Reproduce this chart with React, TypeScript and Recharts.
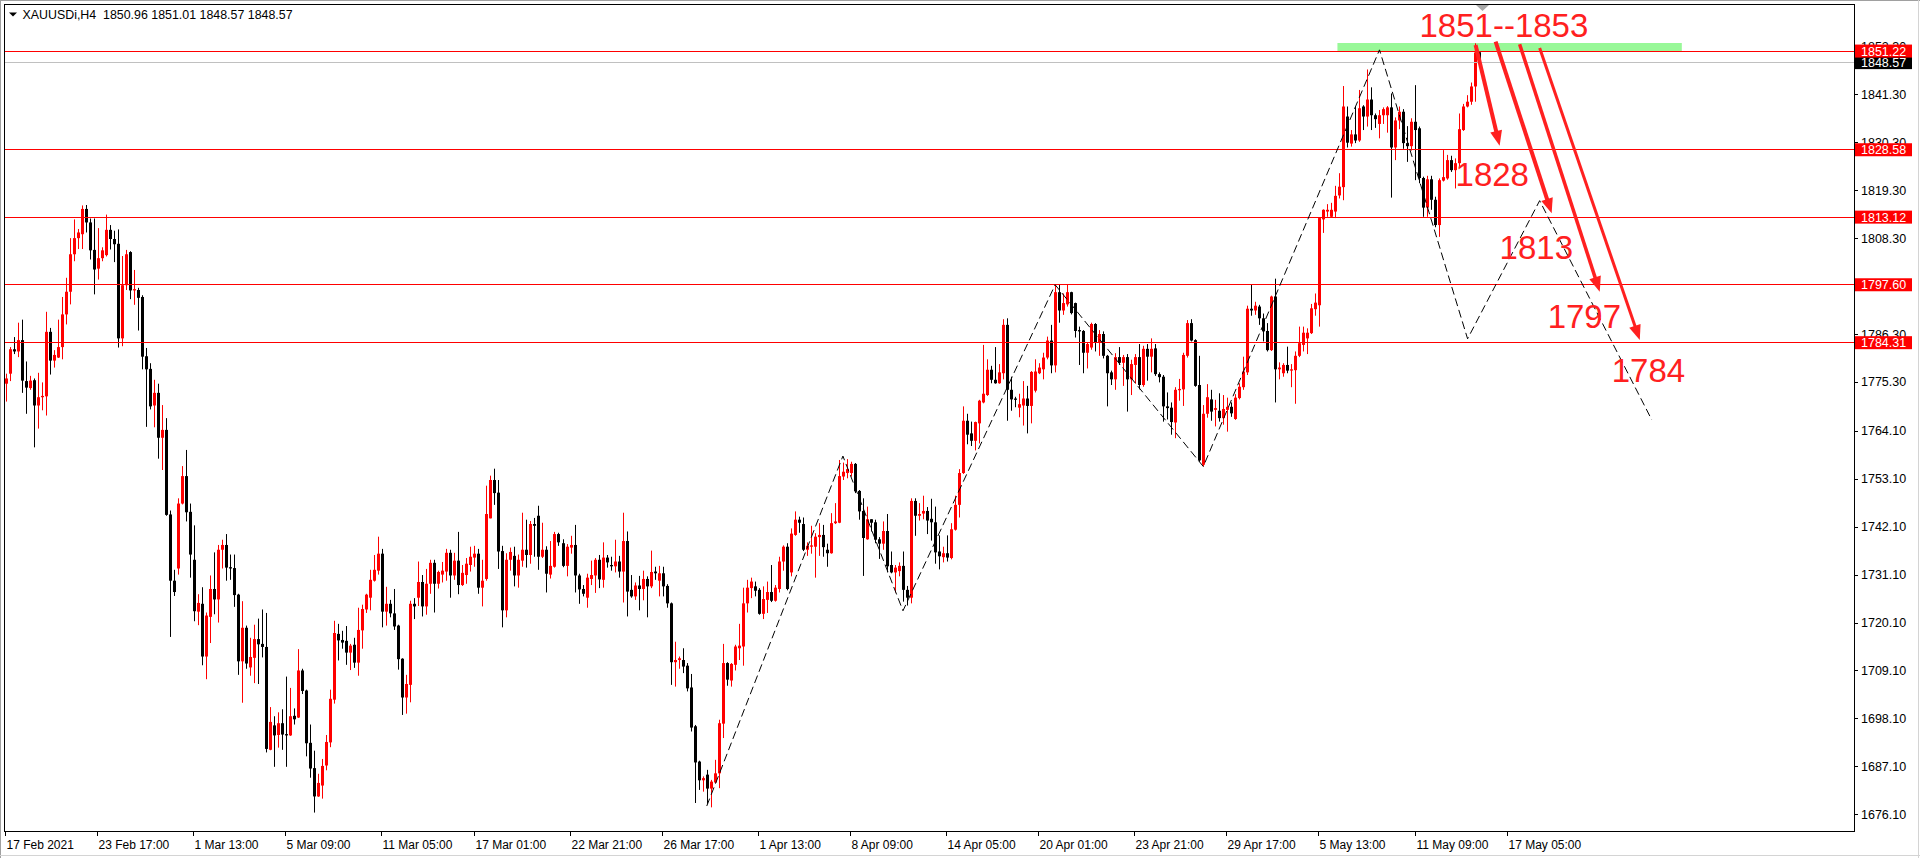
import React from 'react';
import {
  ComposedChart,
  Bar,
  Line,
  XAxis,
  YAxis,
  ReferenceLine,
  ReferenceArea,
  ReferenceDot,
} from 'recharts';

// XAUUSDi H4 chart, MT4 look

const W = 1920;
const H = 858;
const PLOT_L = 4;
const PLOT_T = 4;
const PLOT_R = 1854;
const PLOT_B = 832;
const SLOTS = 462; // bars + empty shift area on the right
const FONT = '"Liberation Sans", Arial, sans-serif';

const OPEN = [
  1774.9, 1777.2, 1782.8, 1782.3, 1784.9, 1775.5, 1773.9, 1775.7, 1769.9, 1771.8,
  1772.0, 1786.8, 1780.2, 1780.9, 1783.3, 1790.8, 1796.0, 1804.6, 1808.3, 1809.2,
  1815.0, 1811.9, 1805.6, 1801.3, 1803.7, 1804.4, 1810.2, 1808.1, 1807.0, 1785.3,
  1797.5, 1805.1, 1796.3, 1796.4, 1794.8, 1781.2, 1778.3, 1769.9, 1772.8, 1762.5,
  1764.3, 1744.9, 1729.7, 1732.5, 1747.4, 1753.7, 1745.5, 1734.5, 1722.6, 1724.4,
  1712.3, 1721.4, 1727.8, 1725.4, 1736.8, 1737.9, 1732.8, 1732.6, 1726.5, 1711.2,
  1718.9, 1709.8, 1712.0, 1716.3, 1715.2, 1714.5, 1690.9, 1696.5, 1694.3, 1697.0,
  1694.5, 1694.2, 1698.7, 1698.3, 1709.1, 1704.5, 1692.5,
  1686.7, 1680.2, 1682.7, 1687.3, 1692.6, 1702.4, 1717.5, 1716.1, 1715.9, 1713.2,
  1715.0, 1710.9, 1718.3, 1723.1, 1725.8, 1729.7, 1732.0, 1735.9, 1722.6, 1724.4,
  1722.2, 1719.4, 1711.8, 1702.9, 1705.8, 1724.4, 1725.8, 1729.4, 1723.8, 1729.0,
  1733.8, 1729.0, 1731.1, 1731.8, 1736.1, 1730.9, 1734.3, 1728.7, 1731.0, 1733.3,
  1735.0, 1735.9, 1728.1, 1730.1, 1744.0, 1752.8, 1749.9, 1736.5, 1722.9, 1734.5,
  1735.4, 1730.9, 1734.3, 1736.8, 1735.6, 1742.7, 1744.6, 1735.2, 1736.8, 1731.1,
  1732.9, 1740.4, 1738.3, 1733.1, 1737.3, 1737.9, 1730.9, 1727.8, 1725.8, 1730.1, 1730.9, 1734.5,
  1729.9, 1735.0, 1733.3, 1733.0, 1734.1, 1731.8, 1738.8, 1727.6, 1726.1, 1728.6,
  1727.8, 1730.1, 1728.4, 1731.8, 1729.7, 1731.4, 1728.5, 1724.5, 1711.0, 1711.5,
  1711.5, 1710.2, 1705.2, 1696.3, 1688.2, 1683.9, 1685.2, 1682.0, 1683.4, 1685.5,
  1696.9, 1710.8, 1706.8, 1710.4, 1714.2, 1714.6, 1724.5, 1728.0, 1728.4, 1727.6,
  1722.1, 1725.3, 1727.1, 1725.1, 1727.8, 1734.1, 1737.5, 1731.6, 1740.2, 1743.7,
  1742.7, 1736.8, 1737.5, 1737.5, 1739.7, 1740.2, 1736.8, 1736.0, 1742.9, 1743.0,
  1753.6, 1754.4, 1754.4, 1756.5, 1750.3, 1745.7, 1739.2, 1743.8, 1743.1, 1739.2,
  1738.2, 1741.1, 1733.3, 1731.6, 1731.9,
  1733.1, 1727.6, 1725.8, 1748.0, 1744.6, 1745.1, 1745.7, 1743.9, 1743.1, 1736.4,
  1735.1, 1736.0, 1734.9, 1741.4, 1747.1, 1754.4, 1766.4, 1763.5, 1761.8, 1765.8,
  1770.6, 1772.3, 1778.1, 1775.8, 1775.0, 1777.3, 1788.4, 1773.5, 1771.5, 1769.4,
  1769.9, 1771.5, 1769.8, 1773.3, 1777.3, 1778.2, 1780.9, 1784.8, 1779.1, 1795.9,
  1791.7, 1793.1, 1795.9, 1793.4, 1787.2, 1787.0, 1782.0, 1783.2, 1788.6, 1784.4,
  1786.3, 1781.3, 1777.5, 1775.9, 1781.0, 1779.7, 1781.0, 1775.9, 1779.2, 1781.0,
  1774.6, 1782.9, 1781.1, 1783.0, 1777.1, 1776.5, 1769.7, 1769.4, 1766.0, 1773.4,
  1773.6, 1781.3, 1788.8, 1784.9, 1774.6,
  1756.3, 1768.0, 1771.3, 1768.9, 1768.7, 1767.0, 1768.9, 1769.6, 1766.8, 1771.6,
  1774.1, 1777.5, 1792.1, 1791.7, 1792.6, 1789.9, 1787.0, 1782.6, 1794.9, 1778.2,
  1777.3, 1779.2, 1777.9, 1778.0, 1781.3, 1783.8, 1785.3, 1786.5, 1792.0, 1792.9,
  1812.6, 1814.4, 1813.2, 1814.4, 1818.1, 1820.0, 1836.2, 1830.0, 1832.1, 1830.7,
  1838.5, 1836.2, 1840.1, 1836.5, 1834.5, 1836.5, 1836.5, 1838.3, 1829.1, 1835.3,
  1837.3, 1830.1, 1829.4, 1835.0, 1833.5, 1822.1, 1815.3, 1821.8, 1817.1, 1811.3,
  1821.5, 1822.0, 1826.2, 1823.9, 1825.5, 1833.1, 1838.5, 1839.6, 1843.1, 1850.96,
];

const HIGH = [
  1777.2, 1783.3, 1785.6, 1788.9, 1789.6, 1780.0, 1776.7, 1776.1, 1777.4, 1775.2,
  1791.4, 1787.7, 1782.6, 1789.6, 1794.8, 1799.2, 1808.3, 1812.6, 1810.4, 1815.8,
  1815.9, 1812.8, 1812.8, 1810.6, 1806.2, 1813.7, 1811.3, 1810.0, 1810.3, 1804.2,
  1805.6, 1805.3, 1801.0, 1796.9, 1795.2, 1783.1, 1779.6, 1775.8, 1774.9, 1770.0,
  1767.0, 1745.8, 1732.2, 1748.6, 1756.0, 1759.7, 1747.4, 1742.4, 1726.6, 1728.2,
  1722.4, 1730.9, 1736.2, 1737.9, 1739.1, 1740.4, 1735.7, 1735.7, 1726.7, 1725.0,
  1719.4, 1716.6, 1719.6, 1721.0, 1723.1, 1722.3, 1700.7, 1698.6, 1699.5, 1700.2,
  1707.7, 1705.1, 1700.4, 1714.0, 1709.5, 1704.7, 1696.7,
  1690.7, 1685.4, 1688.8, 1694.3, 1704.7, 1720.5, 1719.8, 1718.2, 1719.3, 1715.2,
  1716.6, 1723.5, 1724.2, 1726.7, 1732.2, 1735.6, 1739.8, 1737.0, 1728.3, 1725.3,
  1727.8, 1719.6, 1711.9, 1708.1, 1725.1, 1725.7, 1734.1, 1731.0, 1732.4, 1734.5,
  1734.5, 1732.0, 1734.0, 1737.0, 1736.8, 1736.1, 1740.9, 1733.3, 1734.9, 1737.5,
  1737.7, 1737.0, 1734.5, 1751.5, 1753.8, 1755.4, 1752.8, 1737.7, 1736.0, 1737.3,
  1737.5, 1735.7, 1745.3, 1743.7, 1743.4, 1744.1, 1746.9, 1743.0, 1737.6, 1738.8,
  1740.9, 1740.7, 1739.2, 1738.1, 1740.0, 1742.5, 1731.3, 1728.7, 1731.3, 1734.3, 1734.9, 1735.6,
  1738.5, 1735.6, 1735.2, 1739.1, 1735.4, 1745.3, 1741.0, 1731.0, 1729.3, 1730.8,
  1732.0, 1730.7, 1736.6, 1732.9, 1733.1, 1732.9, 1728.9, 1724.7, 1715.7, 1712.3,
  1714.2, 1710.8, 1708.3, 1696.6, 1688.4, 1684.8, 1686.3, 1684.0, 1688.6, 1697.8,
  1715.2, 1711.0, 1710.8, 1715.0, 1719.8, 1728.1, 1729.9, 1730.4, 1729.5, 1728.0,
  1728.4, 1729.5, 1733.3, 1728.7, 1735.2, 1737.8, 1738.3, 1741.7, 1745.6, 1744.4,
  1744.2, 1738.5, 1742.3, 1740.6, 1742.9, 1742.5, 1738.2, 1745.2, 1747.5, 1757.4,
  1756.8, 1757.6, 1757.0, 1756.7, 1750.5, 1748.6, 1746.7, 1743.8, 1743.7, 1739.7,
  1743.3, 1745.0, 1736.4, 1733.3, 1733.9,
  1736.4, 1728.5, 1748.6, 1748.6, 1747.5, 1749.2, 1746.6, 1748.5, 1746.7, 1740.1,
  1737.5, 1740.1, 1742.9, 1749.2, 1755.3, 1769.7, 1768.0, 1766.2, 1766.2, 1771.2,
  1783.8, 1780.5, 1779.0, 1783.3, 1779.4, 1789.7, 1789.9, 1776.5, 1771.9, 1772.6,
  1775.5, 1774.4, 1777.8, 1780.5, 1779.6, 1782.0, 1785.7, 1788.4, 1797.6, 1797.6,
  1795.6, 1797.6, 1796.0, 1793.5, 1788.0, 1787.2, 1784.3, 1788.9, 1788.8, 1787.2,
  1786.9, 1781.5, 1777.9, 1781.9, 1783.3, 1781.5, 1781.7, 1780.4, 1781.7, 1784.0,
  1783.6, 1784.0, 1785.3, 1784.0, 1777.5, 1776.9, 1772.9, 1770.6, 1774.1, 1776.0,
  1782.0, 1789.5, 1789.7, 1785.1, 1781.3,
  1770.0, 1774.8, 1773.5, 1771.2, 1772.7, 1772.3, 1771.7, 1770.6, 1772.5, 1775.0,
  1781.1, 1792.8, 1797.7, 1793.7, 1793.0, 1791.0, 1788.8, 1795.1, 1799.0, 1779.8,
  1779.6, 1783.4, 1779.4, 1782.3, 1788.0, 1788.0, 1787.6, 1793.2, 1795.6, 1813.1,
  1814.9, 1816.1, 1816.4, 1820.3, 1823.2, 1843.2, 1838.5, 1833.1, 1838.5, 1842.3,
  1838.8, 1847.0, 1842.9, 1836.9, 1837.7, 1838.3, 1838.6, 1841.5, 1836.0, 1838.5,
  1837.9, 1834.0, 1835.8, 1843.4, 1833.9, 1822.4, 1822.6, 1822.6, 1817.8, 1822.0,
  1828.5, 1827.4, 1827.2, 1826.6, 1836.9, 1839.1, 1841.1, 1844.0, 1853.0, 1851.01,
];

const LOW = [
  1770.8, 1775.5, 1781.7, 1781.0, 1772.8, 1768.0, 1773.5, 1760.3, 1764.6, 1768.8,
  1767.6, 1777.0, 1778.6, 1780.8, 1780.5, 1788.5, 1793.1, 1803.0, 1805.8, 1805.8,
  1809.6, 1803.4, 1795.4, 1798.8, 1803.0, 1804.1, 1805.7, 1802.8, 1783.2, 1783.5,
  1796.4, 1794.3, 1793.0, 1787.1, 1778.2, 1765.0, 1769.0, 1764.9, 1757.7, 1755.1,
  1744.6, 1716.8, 1726.2, 1731.1, 1747.2, 1743.3, 1730.4, 1720.4, 1719.5, 1710.3,
  1707.1, 1715.4, 1722.0, 1720.1, 1732.5, 1729.7, 1729.9, 1723.7, 1708.1, 1701.7,
  1709.5, 1707.9, 1706.2, 1706.0, 1712.1, 1690.3, 1690.8, 1687.0, 1691.4, 1690.9,
  1687.0, 1694.1, 1696.7, 1698.2, 1703.7, 1689.4, 1684.5,
  1676.5, 1680.1, 1679.7, 1686.2, 1691.5, 1701.5, 1711.4, 1714.1, 1710.4, 1709.2,
  1709.7, 1707.9, 1714.1, 1722.3, 1722.9, 1729.5, 1731.1, 1719.0, 1719.4, 1721.3,
  1718.4, 1709.3, 1698.9, 1699.2, 1701.8, 1720.9, 1723.9, 1721.5, 1721.9, 1726.7,
  1722.4, 1727.9, 1729.3, 1729.7, 1725.8, 1729.9, 1726.6, 1728.5, 1729.0, 1731.8,
  1732.9, 1726.7, 1723.8, 1729.7, 1744.0, 1747.1, 1732.4, 1719.0, 1721.3, 1732.0,
  1728.4, 1728.1, 1732.9, 1732.7, 1733.6, 1735.2, 1732.2, 1734.9, 1727.0, 1730.2,
  1732.7, 1737.7, 1732.8, 1730.7, 1735.9, 1727.0, 1724.4, 1726.1, 1723.5, 1728.7, 1726.9, 1728.0,
  1728.1, 1732.7, 1732.0, 1731.6, 1730.4, 1724.7, 1721.5, 1725.8, 1725.3, 1722.9,
  1725.2, 1721.3, 1728.0, 1729.9, 1726.1, 1726.1, 1723.5, 1705.8, 1705.4, 1709.5,
  1708.5, 1704.3, 1695.1, 1678.7, 1681.7, 1681.3, 1678.5, 1677.7, 1683.3, 1682.1,
  1693.6, 1705.6, 1705.4, 1709.1, 1711.5, 1710.2, 1722.4, 1725.7, 1726.1, 1721.9,
  1720.9, 1722.3, 1724.8, 1724.9, 1727.0, 1732.0, 1727.5, 1730.7, 1740.0, 1740.7,
  1736.5, 1735.4, 1735.9, 1730.4, 1735.4, 1735.2, 1732.9, 1735.9, 1742.7, 1742.9,
  1752.8, 1753.2, 1753.6, 1749.8, 1743.7, 1730.8, 1739.1, 1741.0, 1738.3, 1734.7,
  1736.8, 1731.6, 1731.4, 1727.0, 1730.7,
  1724.9, 1724.0, 1724.5, 1740.0, 1743.5, 1743.8, 1740.4, 1738.9, 1733.6, 1732.3,
  1733.9, 1734.1, 1734.6, 1741.2, 1744.2, 1754.2, 1761.0, 1760.6, 1759.6, 1761.2,
  1770.4, 1772.1, 1775.0, 1774.9, 1774.9, 1775.9, 1766.4, 1768.7, 1769.5, 1767.2,
  1765.3, 1763.5, 1765.8, 1772.9, 1777.1, 1775.9, 1780.5, 1777.3, 1777.5, 1788.9,
  1790.7, 1792.6, 1790.8, 1785.5, 1779.2, 1777.3, 1778.4, 1782.7, 1782.3, 1781.3,
  1780.7, 1769.7, 1774.6, 1773.5, 1779.2, 1774.4, 1768.5, 1772.3, 1774.9, 1773.6,
  1774.2, 1775.6, 1777.5, 1776.7, 1775.2, 1766.2, 1766.7, 1763.2, 1762.4, 1771.0,
  1769.8, 1780.9, 1784.6, 1774.2, 1757.0,
  1755.9, 1767.1, 1766.4, 1765.1, 1766.2, 1765.5, 1763.9, 1767.3, 1766.6, 1771.3,
  1773.5, 1776.9, 1790.5, 1790.7, 1788.4, 1784.6, 1782.3, 1782.4, 1770.6, 1775.9,
  1776.5, 1777.3, 1774.1, 1770.3, 1781.0, 1782.3, 1781.7, 1786.3, 1790.5, 1788.0,
  1809.5, 1813.2, 1813.0, 1812.9, 1817.4, 1817.0, 1829.1, 1829.3, 1830.1, 1830.4,
  1833.1, 1833.9, 1833.1, 1833.6, 1831.2, 1834.5, 1832.5, 1817.6, 1826.2, 1833.3,
  1828.8, 1825.8, 1828.4, 1821.6, 1820.9, 1813.2, 1813.2, 1814.8, 1810.8, 1808.6,
  1821.3, 1821.7, 1823.5, 1819.7, 1824.7, 1832.9, 1838.3, 1838.9, 1839.6, 1848.57,
];

const CLOSE = [
  1776.1, 1782.8, 1782.3, 1784.9, 1775.6, 1774.0, 1775.6, 1769.9, 1771.8, 1772.1,
  1786.8, 1780.2, 1781.5, 1783.3, 1790.8, 1796.0, 1804.6, 1808.3, 1809.6, 1815.0,
  1811.9, 1805.5, 1801.1, 1803.7, 1805.5, 1810.2, 1808.1, 1806.9, 1785.3, 1797.5,
  1804.6, 1796.3, 1796.6, 1794.6, 1781.1, 1778.2, 1769.7, 1772.8, 1762.5, 1764.3,
  1744.8, 1729.7, 1727.1, 1747.4, 1753.7, 1745.4, 1735.7, 1722.7, 1724.6, 1712.3,
  1721.7, 1727.8, 1725.4, 1736.8, 1737.9, 1732.7, 1732.5, 1726.4, 1711.2, 1718.9,
  1710.7, 1712.2, 1716.3, 1715.1, 1714.5, 1691.1, 1697.3, 1694.2, 1697.0, 1694.4,
  1694.2, 1698.6, 1697.9, 1709.1, 1704.4, 1692.4, 1686.6,
  1680.2, 1683.3, 1687.2, 1692.7, 1702.6, 1717.7, 1716.0, 1715.5, 1713.2, 1714.8,
  1710.9, 1718.4, 1723.2, 1726.5, 1729.9, 1732.2, 1735.9, 1722.6, 1724.4, 1722.2,
  1719.2, 1711.7, 1702.9, 1706.0, 1724.4, 1723.8, 1729.4, 1723.8, 1729.0, 1733.8,
  1729.0, 1731.7, 1732.0, 1736.1, 1730.9, 1734.3, 1728.7, 1731.5, 1733.6, 1735.2,
  1735.9, 1728.1, 1729.7, 1745.0, 1752.8, 1749.8, 1736.4, 1722.9, 1734.5, 1736.3,
  1730.9, 1734.5, 1736.8, 1735.6, 1742.7, 1742.3, 1735.2, 1736.8, 1731.3, 1733.1,
  1740.4, 1738.5, 1733.1, 1737.5, 1737.9, 1730.9, 1727.7, 1726.7, 1730.4, 1731.0, 1734.5, 1730.0,
  1735.0, 1733.9, 1733.0, 1734.1, 1731.8, 1738.8, 1727.2, 1726.1, 1728.6, 1727.8,
  1730.1, 1728.4, 1731.7, 1731.4, 1731.4, 1728.4, 1724.5, 1711.0, 1711.5, 1711.9,
  1710.0, 1705.0, 1696.0, 1688.0, 1683.9, 1684.4, 1682.0, 1683.6, 1685.5, 1697.0,
  1710.8, 1707.0, 1710.6, 1714.6, 1714.8, 1724.5, 1728.1, 1729.5, 1727.4, 1722.1,
  1725.5, 1727.1, 1725.1, 1728.1, 1734.1, 1737.5, 1727.8, 1740.5, 1743.7, 1743.0,
  1736.8, 1737.7, 1737.8, 1739.8, 1740.2, 1737.4, 1736.0, 1742.9, 1743.3, 1753.7,
  1754.7, 1755.3, 1756.5, 1750.2, 1745.6, 1739.5, 1743.8, 1743.0, 1739.1, 1738.2,
  1741.1, 1733.0, 1731.6, 1732.7, 1733.1,
  1727.6, 1725.8, 1748.0, 1744.6, 1745.0, 1745.7, 1743.5, 1743.1, 1736.2, 1735.3,
  1736.0, 1735.0, 1741.5, 1747.1, 1754.4, 1766.4, 1763.2, 1761.8, 1766.1, 1771.0,
  1772.6, 1778.1, 1775.8, 1775.0, 1777.5, 1788.4, 1773.5, 1771.3, 1771.2, 1770.2,
  1771.5, 1769.8, 1777.6, 1777.7, 1778.6, 1780.9, 1784.8, 1779.1, 1795.9, 1791.7,
  1793.4, 1795.9, 1791.1, 1787.0, 1786.9, 1782.0, 1784.0, 1788.6, 1784.4, 1786.3,
  1781.3, 1777.3, 1775.9, 1781.0, 1779.7, 1781.0, 1775.9, 1779.4, 1781.0, 1774.6,
  1782.9, 1781.1, 1782.9, 1777.1, 1776.4, 1769.7, 1769.3, 1766.1, 1773.5, 1773.7,
  1781.5, 1788.8, 1784.8, 1774.4, 1757.3,
  1768.0, 1771.8, 1768.5, 1769.3, 1767.0, 1769.1, 1769.6, 1768.1, 1771.7, 1774.2,
  1777.7, 1792.1, 1791.7, 1792.8, 1789.9, 1786.9, 1782.6, 1794.9, 1778.2, 1778.6,
  1779.2, 1777.9, 1778.2, 1781.3, 1784.2, 1786.6, 1786.6, 1792.2, 1793.5, 1812.9,
  1814.8, 1814.8, 1814.8, 1818.0, 1820.1, 1838.5, 1830.2, 1832.1, 1830.7, 1838.1,
  1836.2, 1840.1, 1836.5, 1835.6, 1836.5, 1837.9, 1838.3, 1829.1, 1835.3, 1837.3,
  1830.1, 1829.4, 1835.0, 1833.1, 1822.1, 1815.3, 1821.8, 1817.1, 1811.3, 1821.6,
  1822.3, 1826.2, 1823.9, 1825.5, 1833.3, 1838.5, 1839.6, 1843.1, 1850.9, 1848.57,
];

// time axis: bar slot -> label
const X_TICK_BARS = [0, 23, 47, 70, 94, 117, 141, 164, 188, 211, 235, 258, 282, 305, 328, 352, 375];
const X_TICK_LABELS = [
  '17 Feb 2021', '23 Feb 17:00', '1 Mar 13:00', '5 Mar 09:00', '11 Mar 05:00',
  '17 Mar 01:00', '22 Mar 21:00', '26 Mar 17:00', '1 Apr 13:00', '8 Apr 09:00',
  '14 Apr 05:00', '20 Apr 01:00', '23 Apr 21:00', '29 Apr 17:00', '5 May 13:00',
  '11 May 09:00', '17 May 05:00',
];

const Y_DOMAIN = [1672.04, 1862.02];
const Y_TICKS = [
  1852.3, 1841.3, 1830.3, 1819.3, 1808.3, 1797.3, 1786.3, 1775.3,
  1764.1, 1753.1, 1742.1, 1731.1, 1720.1, 1709.1, 1698.1, 1687.1, 1676.1,
];

// horizontal levels + current bid
const LEVELS = [1851.22, 1828.58, 1813.12, 1797.6, 1784.31];
const BID = 1848.57;

// dashed zigzag pivots
const ZIGZAG_BARS = [175, 209, 224, 262, 299, 343, 365, 383, 411];
const ZIGZAG_PRICES = [1678.0, 1758.3, 1722.8, 1797.6, 1755.9, 1851.5, 1785.2, 1816.9, 1766.6];

// red target arrows
const ARROW_FROM_BAR = [367, 372, 378, 383];
const ARROW_FROM_PRICE = [1852.6, 1853.4, 1852.8, 1851.9];
const ARROW_TO_BAR = [373, 386, 398, 408];
const ARROW_TO_PRICE = [1829.5, 1814.0, 1796.0, 1784.9];
const ARROW_WIDTH = [4, 4, 3.5, 3];

// text notes
const NOTE_TEXT = ['1851--1853', '1828', '1813', '1797', '1784'];
const NOTE_BAR = [353, 362, 373, 385, 401];
const NOTE_PRICE = [1854.44, 1820.27, 1803.46, 1787.63, 1775.38];

// green resistance zone
const ZONE_BARS = [333, 418];
const ZONE_PRICES = [1851.22, 1853.1];

const rows = Array.from({ length: SLOTS }, (_, i) => {
  const row: any = { i };
  if (i < OPEN.length) {
    const o = OPEN[i];
    const c = CLOSE[i];
    const h = Math.max(HIGH[i], o, c);
    const l = Math.min(LOW[i], o, c);
    row.o = o;
    row.c = c;
    row.h = h;
    row.l = l;
    row.range = [l, h];
  }
  const z = ZIGZAG_BARS.indexOf(i);
  if (z >= 0) row.zz = ZIGZAG_PRICES[z];
  return row;
});

const Candle = (props: any) => {
  const { x, y, width, height, payload } = props;
  if (!payload || payload.o === undefined) return <g />;
  const { o, h, l, c } = payload;
  const top = Math.min(y, y + height);
  const bottom = Math.max(y, y + height);
  const k = h > l ? (bottom - top) / (h - l) : 0;
  const py = (v: number) => top + (h - v) * k;
  const cx = Math.round(x + width / 2);
  const color = c >= o ? '#ff0000' : '#000000';
  const bTop = py(Math.max(o, c));
  const bBot = py(Math.min(o, c));
  return (
    <g>
      <rect x={cx} y={top} width={1} height={Math.max(1, bottom - top)} fill={color} />
      <rect x={cx - 1} y={bTop} width={3} height={Math.max(1, bBot - bTop)} fill={color} />
    </g>
  );
};

const XTick = (props: any) => {
  const { x, payload } = props;
  const k = X_TICK_BARS.indexOf(payload.value);
  if (k < 0) return <g />;
  const px = Math.round(x) - 0.5;
  return (
    <g>
      <line x1={px} x2={px} y1={PLOT_B} y2={PLOT_B + 4} stroke="#000" />
      <text x={px + 1} y={849} fontSize={12} fontFamily={FONT} fill="#000" textAnchor="start">
        {X_TICK_LABELS[k]}
      </text>
    </g>
  );
};

const YTick = (props: any) => {
  const { y, payload } = props;
  const v = payload.value as number;
  const isTag = v === BID || LEVELS.includes(v);
  if (isTag) {
    return (
      <g>
        <rect x={PLOT_R + 1} y={y - 6.5} width={57} height={13} fill={v === BID ? '#000' : '#ff0000'} />
        <text x={PLOT_R + 7} y={y + 4.5} fontSize={12.5} fontFamily={FONT} fill="#fff">
          {v.toFixed(2)}
        </text>
      </g>
    );
  }
  const py = Math.round(y) + 0.5;
  return (
    <g>
      <line x1={PLOT_R} x2={PLOT_R + 4} y1={py} y2={py} stroke="#000" />
      <text x={PLOT_R + 7} y={y + 4.5} fontSize={12.5} fontFamily={FONT} fill="#000">
        {v.toFixed(2)}
      </text>
    </g>
  );
};

const arrowShape = (w: number) => (p: any) => {
  const { x1, y1, x2, y2 } = p;
  const ang = Math.atan2(y2 - y1, x2 - x1);
  const cs = Math.cos(ang);
  const sn = Math.sin(ang);
  const len = 15;
  const hw = 6;
  const bx = x2 - len * cs;
  const by = y2 - len * sn;
  const pts = `${x2},${y2} ${bx - hw * sn},${by + hw * cs} ${bx + hw * sn},${by - hw * cs}`;
  return (
    <g>
      <line x1={x1} y1={y1} x2={bx + 2 * cs} y2={by + 2 * sn} stroke="#ff2020" strokeWidth={w} />
      <polygon points={pts} fill="#ff2020" />
    </g>
  );
};

const noteShape = (text: string) => (p: any) => (
  <text x={p.cx} y={p.cy} fontSize={33} fontFamily={FONT} fill="#ff2020">
    {text}
  </text>
);

export default function App() {
  return (
    <div
      style={{
        position: 'fixed',
        left: 0,
        top: 0,
        width: W,
        height: H,
        background: '#fff',
        overflow: 'hidden',
      }}
    >
      <ComposedChart
        width={W}
        height={H}
        data={rows}
        margin={{ top: PLOT_T, right: 0, bottom: 0, left: PLOT_L }}
        style={{ position: 'absolute', left: 0, top: 0 }}
      >
        <XAxis
          dataKey="i"
          type="category"
          height={H - PLOT_B}
          ticks={X_TICK_BARS}
          interval={0}
          tick={XTick}
          tickLine={false}
          axisLine={false}
        />
        <YAxis
          orientation="right"
          type="number"
          width={W - PLOT_R}
          domain={Y_DOMAIN}
          allowDataOverflow
          ticks={[...Y_TICKS, BID, ...LEVELS]}
          interval={0}
          tick={YTick}
          tickLine={false}
          axisLine={false}
        />
        <ReferenceArea
          x1={ZONE_BARS[0]}
          x2={ZONE_BARS[1]}
          y1={ZONE_PRICES[0]}
          y2={ZONE_PRICES[1]}
          fill="#98f898"
          fillOpacity={1}
          stroke="none"
          ifOverflow="visible"
        />
        <ReferenceLine y={BID} stroke="#c0c0c0" strokeWidth={1} shapeRendering="crispEdges" />
        <Bar dataKey="range" shape={Candle} isAnimationActive={false} />
        {LEVELS.map((v) => (
          <ReferenceLine key={v} y={v} stroke="#ff0000" strokeWidth={1} shapeRendering="crispEdges" />
        ))}
        <Line
          dataKey="zz"
          connectNulls
          stroke="#000"
          strokeWidth={1}
          strokeDasharray="8 4"
          dot={false}
          activeDot={false}
          isAnimationActive={false}
        />
        {ARROW_FROM_BAR.map((b, k) => (
          <ReferenceLine
            key={`arrow-${k}`}
            segment={[
              { x: b, y: ARROW_FROM_PRICE[k] },
              { x: ARROW_TO_BAR[k], y: ARROW_TO_PRICE[k] },
            ]}
            ifOverflow="visible"
            shape={arrowShape(ARROW_WIDTH[k])}
          />
        ))}
        {NOTE_TEXT.map((t, k) => (
          <ReferenceDot
            key={t}
            x={NOTE_BAR[k]}
            y={NOTE_PRICE[k]}
            r={0}
            ifOverflow="visible"
            shape={noteShape(t)}
          />
        ))}
      </ComposedChart>
      <svg
        width={W}
        height={H}
        style={{ position: 'absolute', left: 0, top: 0, pointerEvents: 'none' }}
      >
        <rect x={PLOT_L + 0.5} y={PLOT_T + 0.5} width={PLOT_R - PLOT_L} height={PLOT_B - PLOT_T - 1} fill="none" stroke="#000" />
        <line x1={0} x2={W} y1={0.5} y2={0.5} stroke="#a0a0a0" />
        <line x1={0.5} x2={0.5} y1={0} y2={H} stroke="#a0a0a0" />
        <line x1={0} x2={W} y1={855.5} y2={855.5} stroke="#d4d4d4" />
        <line x1={1918.5} x2={1918.5} y1={0} y2={H} stroke="#d4d4d4" />
        <polygon points="1476,5 1489,5 1482.5,11" fill="#a8a8a8" />
        <polygon points="9,12.5 17,12.5 13,16.5" fill="#000" />
        <text x={22.5} y={19} fontSize={12.4} fontFamily={FONT} fill="#000" style={{ whiteSpace: 'pre' }}>
          {'XAUUSDi,H4  1850.96 1851.01 1848.57 1848.57'}
        </text>
      </svg>
    </div>
  );
}
